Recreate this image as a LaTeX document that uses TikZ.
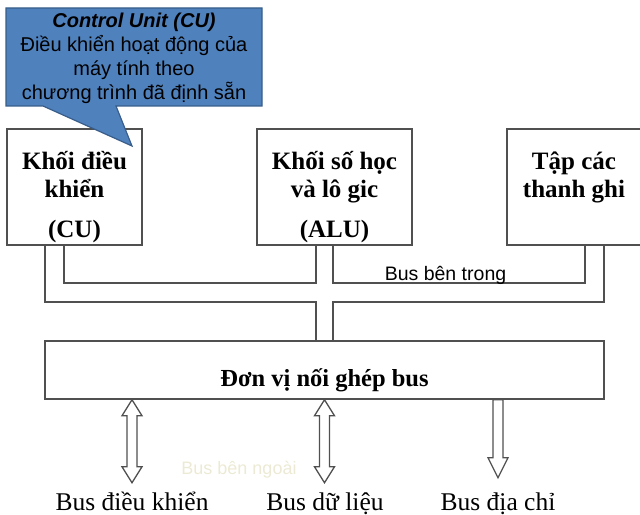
\documentclass[tikz,border=0pt]{standalone}
\usepackage{fontspec}
\setmainfont{Liberation Serif}
\newfontfamily\arialf{Liberation Sans}
\usetikzlibrary{calc}

\definecolor{calloutfill}{RGB}{79,129,189}
\definecolor{calloutedge}{RGB}{56,93,138}
\definecolor{edge}{RGB}{80,80,80}
\definecolor{paletext}{RGB}{236,234,212}

% fixed-height strut so the first lines of the unit labels line up
\newcommand\ustrut{\rule{0pt}{24bp}}

\begin{document}
\begin{tikzpicture}[x=1bp,y=-1bp,
  unit/.style={draw=edge, line width=1.5bp, rectangle, inner sep=0pt,
               minimum height=116bp},
  unittext/.style={font=\fontsize{25bp}{28bp}\selectfont\bfseries,
                   align=center, inner sep=0pt, anchor=north},
  busline/.style={draw=edge, line width=1.5bp},
  hollow/.style={draw=edge, line width=1.3bp, fill=white, line join=miter},
  buslabel/.style={font=\fontsize{25.5bp}{28bp}\selectfont, inner sep=0pt, anchor=base},
  sanslabel/.style={font=\arialf\fontsize{19.5bp}{22bp}\selectfont, inner sep=0pt, anchor=base},
  callout/.style={fill=calloutfill, draw=calloutedge, line width=1.2bp, line join=miter},
]
\useasboundingbox (0,0) rectangle (640,515);
\clip (0,0) rectangle (640,515);

% processor units
\node[unit, minimum width=135bp] (cu)  at (74.5,187) {};
\node[unit, minimum width=155bp] (alu) at (334.5,187) {};
\node[unit, minimum width=134bp] (reg) at (574,187) {};
\node[unittext] (cutext)  at (74.5,145)  {\ustrut Khối điều\\khiển\\[12bp](CU)};
\node[unittext] (alutext) at (334.5,145) {\ustrut Khối số học\\và lô gic\\[12bp](ALU)};
\node[unittext] (regtext) at (574,145)   {\ustrut Tập các\\thanh ghi};

% bus interface unit
\node[draw=edge, line width=1.5bp, rectangle, inner sep=0pt,
      minimum width=559bp, minimum height=58bp] (bus) at (324.5,370) {};
\node[font=\fontsize{24.5bp}{28bp}\selectfont\bfseries, inner sep=0pt, anchor=base]
      (bustext) at (324.5,386) {Đơn vị nối ghép bus};

% internal bus wiring
\coordinate (p1) at (45,0);
\coordinate (p2) at (64,0);
\coordinate (p3) at (316,0);
\coordinate (p4) at (333,0);
\coordinate (p5) at (585,0);
\coordinate (p6) at (604,0);
\coordinate (hin)  at (0,283);
\coordinate (hout) at (0,302);
\draw[busline] (cu.south -| p2) -- (hin -| p2) -- (hin -| p3) -- (alu.south -| p3);
\draw[busline] (alu.south -| p4) -- (hin -| p4) -- (hin -| p5) -- (reg.south -| p5);
\draw[busline] (cu.south -| p1) -- (hout -| p1) -- (hout -| p3) -- (bus.north -| p3);
\draw[busline] (reg.south -| p6) -- (hout -| p6) -- (hout -| p4) -- (bus.north -| p4);
\node[sanslabel] (inbus) at (445.5,280) {Bus bên trong};

% external buses
\coordinate (a1) at (132,0);
\coordinate (a2) at (324.5,0);
\coordinate (a3) at (498,0);
\draw[hollow] (bus.south -| a1) -- ++(10,16) -- ++(-5,0) -- ++(0,51) -- ++(5,0)
  -- ++(-10,16) -- ++(-10,-16) -- ++(5,0) -- ++(0,-51) -- ++(-5,0) -- cycle;
\draw[hollow] (bus.south -| a2) -- ++(10,16) -- ++(-5,0) -- ++(0,51) -- ++(5,0)
  -- ++(-10,16) -- ++(-10,-16) -- ++(5,0) -- ++(0,-51) -- ++(-5,0) -- cycle;
\draw[hollow] (bus.south -| a3) ++(-5,0) -- ++(10,0) -- ++(0,58) -- ++(5,0)
  -- ++(-10,20) -- ++(-10,-20) -- ++(5,0) -- cycle;
\node[font=\arialf\fontsize{18bp}{21bp}\selectfont, text=paletext, inner sep=0pt, anchor=base]
  (outbus) at (239,474) {Bus bên ngoài};
\node[buslabel] (ctrlbus) at (132,510)   {Bus điều khiển};
\node[buslabel] (databus) at (325,510)   {Bus dữ liệu};
\node[buslabel] (addrbus) at (498,510)   {Bus địa chỉ};

% callout describing the control unit
\coordinate (tip) at (132,146);
\draw[callout] (6,8) -- (262,8) -- (262,106) -- (116,106) -- (tip) -- (43,106)
  -- (6,106) -- cycle;
\node[font=\arialf\fontsize{20bp}{24bp}\selectfont, align=center, inner sep=0pt, anchor=north]
  (cutip) at (134,7)
  {\rule{0pt}{20bp}\textbf{\textit{Control Unit (CU)}}\\Điều khiển hoạt động của\\máy tính theo\\chương trình đã định sẵn};
\end{tikzpicture}
\end{document}
